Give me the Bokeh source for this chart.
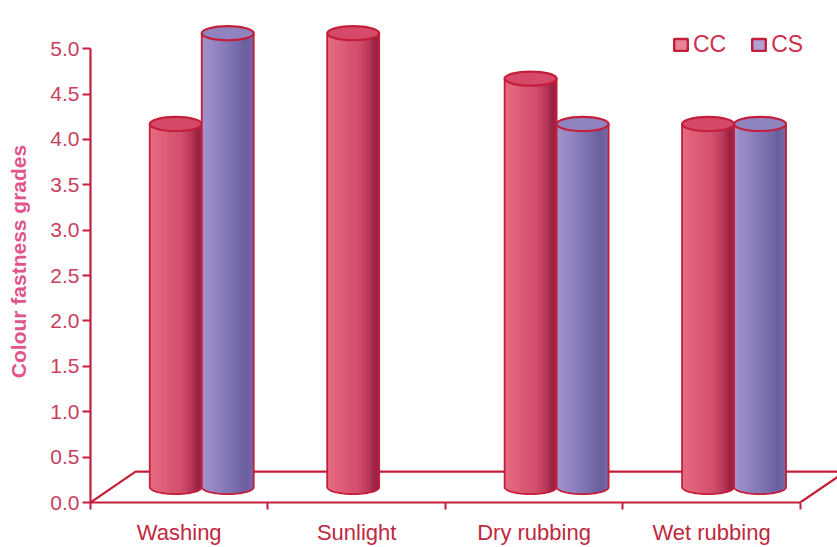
import numpy as np
from bokeh.plotting import figure
from bokeh.models import (Range1d, FixedTicker, LinearAxis, Legend, LegendItem,
                          NumeralTickFormatter)
from bokeh.embed import file_html
from bokeh.resources import INLINE

# Colour fastness grades per test, for the two fabrics
categories = ["Washing", "Sunlight", "Dry rubbing", "Wet rubbing"]
cc_grades = [4.0, 5.0, 4.5, 4.0]
cs_grades = [5.0, None, 4.0, 4.0]
series_names = ["CC", "CS"]
grade_ticks = [0.0, 0.5, 1.0, 1.5, 2.0, 2.5, 3.0, 3.5, 4.0, 4.5, 5.0]

# pseudo-3D geometry (data units)
DEPTH_X = 0.254      # horizontal shift of the floor's back edge
DEPTH_Y = 0.34       # vertical shift of the floor's back edge
BAR_W = 0.293        # cylinder diameter
CAP_H = 0.155        # height of the elliptical cap
N_STRIPS = 26        # vertical strips used for the shading

EDGE = "#c41e3a"
FONT = "Liberation Sans"

# shading profiles across a cylinder, from left (-1) to right (+1)
CC_SHADE = [(-1.0, "#e66c82"), (-0.4, "#de5c76"), (0.2, "#d24e6c"),
            (0.6, "#b8385a"), (0.85, "#96203f"), (1.0, "#a8284a")]
CS_SHADE = [(-1.0, "#a294cc"), (-0.4, "#9083c0"), (0.2, "#7c70ae"),
            (0.7, "#6a5e9e"), (1.0, "#786aa8")]
CC_CAP = "#d44a68"
CS_CAP = "#8f84c0"
CC_KEY = "#e8849a"
CS_KEY = "#aea2d4"


def hex_rgb(h):
    h = h.lstrip("#")
    return np.array([int(h[i:i + 2], 16) for i in (0, 2, 4)], dtype=float)


def shade(stops, u):
    pos = np.array([s[0] for s in stops])
    rgb = np.array([hex_rgb(s[1]) for s in stops])
    out = []
    for v in u:
        c = [np.interp(v, pos, rgb[:, k]) for k in range(3)]
        out.append("#%02x%02x%02x" % tuple(int(round(x)) for x in c))
    return out


p = figure(width=837, height=547,
           x_range=Range1d(0, 4.21), y_range=Range1d(0, 5.31),
           x_axis_type=None, y_axis_type=None,
           output_backend="svg", toolbar_location=None,
           min_border_left=90, min_border_right=0,
           min_border_top=20, min_border_bottom=44)
p.outline_line_color = None
p.background_fill_color = "white"
p.border_fill_color = "white"

n = len(categories)

# floor outline (back edge and both diagonals)
p.line([0, DEPTH_X, n + DEPTH_X, n], [0, DEPTH_Y, DEPTH_Y, 0],
       line_color=EDGE, line_width=2.2)


def cylinder(cx, value, stops, cap_color):
    base = DEPTH_Y / 2
    top = base + value
    edges = np.linspace(cx - BAR_W / 2, cx + BAR_W / 2, N_STRIPS + 1)
    mids = (edges[:-1] + edges[1:]) / 2
    u = (mids - cx) / (BAR_W / 2)
    bottoms = base - CAP_H / 2 * np.sqrt(np.clip(1 - u ** 2, 0, 1))
    step = edges[1] - edges[0]
    rights = edges[1:].copy()
    rights[:-1] += step * 0.6
    p.quad(left=edges[:-1], right=rights, bottom=bottoms,
           top=[top] * N_STRIPS, fill_color=shade(stops, u), line_color=None)
    t = np.linspace(np.pi, 2 * np.pi, 48)
    ox = np.concatenate([[cx - BAR_W / 2], cx + BAR_W / 2 * np.cos(t), [cx + BAR_W / 2]])
    oy = np.concatenate([[top], base + CAP_H / 2 * np.sin(t), [top]])
    p.line(ox, oy, line_color=EDGE, line_width=1.8)
    p.ellipse(x=[cx], y=[top], width=BAR_W, height=CAP_H,
              fill_color=cap_color, line_color=EDGE, line_width=2.2)


for i in range(n):
    group_center = i + 0.5 + DEPTH_X / 2
    if cc_grades[i] is not None:
        cylinder(group_center - BAR_W / 2, cc_grades[i], CC_SHADE, CC_CAP)
    if cs_grades[i] is not None:
        cylinder(group_center + BAR_W / 2, cs_grades[i], CS_SHADE, CS_CAP)

# y axis
yaxis = LinearAxis(ticker=FixedTicker(ticks=grade_ticks),
                   formatter=NumeralTickFormatter(format="0.0"),
                   bounds=(0, 5),
                   axis_label="Colour fastness grades")
yaxis.axis_line_color = EDGE
yaxis.axis_line_width = 2.2
yaxis.major_tick_line_color = EDGE
yaxis.major_tick_line_width = 2
yaxis.major_tick_out = 8
yaxis.major_tick_in = 0
yaxis.minor_tick_line_color = None
yaxis.major_label_standoff = 3
yaxis.major_label_text_color = "#c9405e"
yaxis.major_label_text_font = FONT
yaxis.major_label_text_font_size = "21px"
yaxis.axis_label_text_color = "#e2558a"
yaxis.axis_label_text_font = FONT
yaxis.axis_label_text_font_style = "bold"
yaxis.axis_label_text_font_size = "21px"
yaxis.axis_label_standoff = 17
p.add_layout(yaxis, "left")

# category axis: labels at group centres, separator ticks between groups
centers = [i + 0.5 for i in range(n)]
separators = [float(i) for i in range(n + 1)]
xaxis = LinearAxis(ticker=FixedTicker(ticks=centers, minor_ticks=separators),
                   bounds=(0, n),
                   major_label_overrides={c: lab for c, lab in zip(centers, categories)})
xaxis.axis_line_color = EDGE
xaxis.axis_line_width = 2.2
xaxis.major_tick_line_color = None
xaxis.major_tick_out = 0
xaxis.major_tick_in = 0
xaxis.minor_tick_line_color = EDGE
xaxis.minor_tick_line_width = 2
xaxis.minor_tick_out = 7
xaxis.minor_tick_in = 0
xaxis.major_label_standoff = 10
xaxis.major_label_text_color = "#c0283f"
xaxis.major_label_text_font = FONT
xaxis.major_label_text_font_size = "22px"
p.add_layout(xaxis, "below")

# legend keys (sources hold a single NaN row so only the key is drawn)
cc_key = p.quad(left=[np.nan], right=[np.nan], bottom=[np.nan], top=[np.nan],
                fill_color=CC_KEY, line_color=EDGE, line_width=2.4)
cs_key = p.quad(left=[np.nan], right=[np.nan], bottom=[np.nan], top=[np.nan],
                fill_color=CS_KEY, line_color=EDGE, line_width=2.4)
legend = Legend(items=[LegendItem(label=series_names[0], renderers=[cc_key]),
                       LegendItem(label=series_names[1], renderers=[cs_key])],
                orientation="horizontal", location=(582, 444),
                glyph_width=17, glyph_height=15, label_standoff=4, spacing=24,
                padding=0, margin=0,
                border_line_color=None, background_fill_alpha=0,
                label_text_color="#cf2f4c", label_text_font=FONT,
                label_text_font_size="23px")
p.add_layout(legend)

open("out.html", "w").write(file_html(p, INLINE))
